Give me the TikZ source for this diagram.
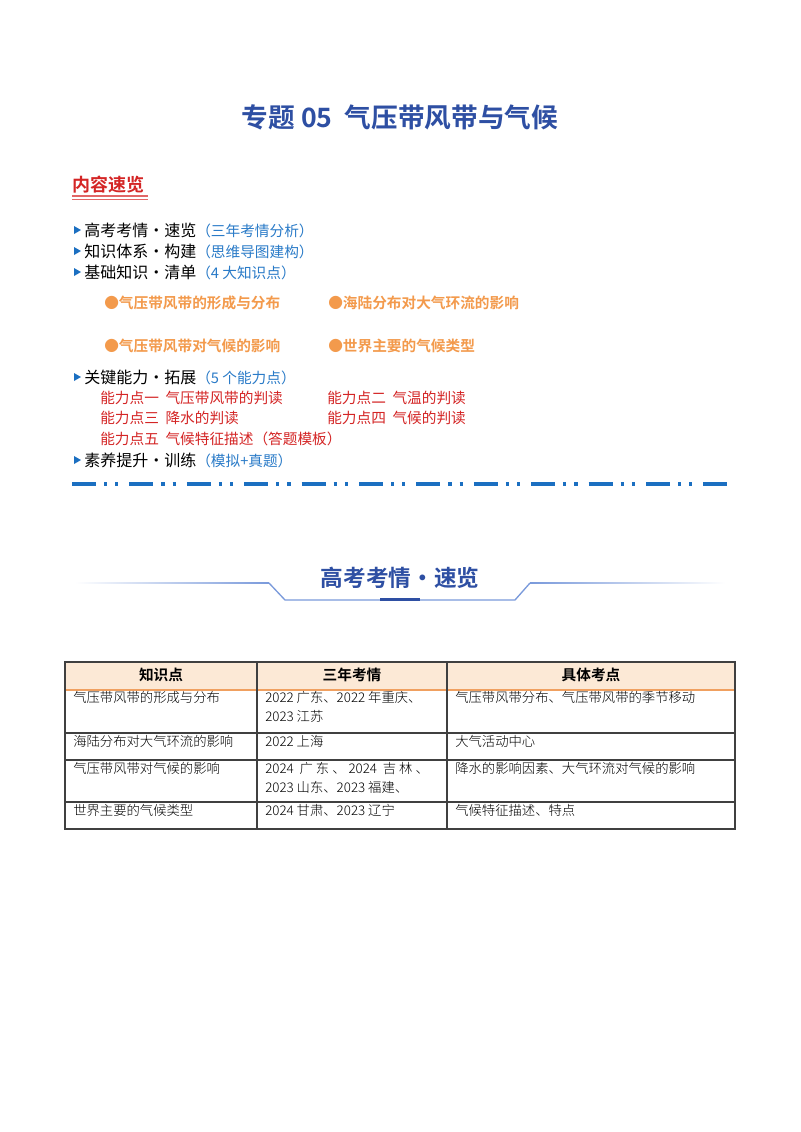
\documentclass[tikz,border=0pt]{standalone}
\usepackage{fontspec}
\setmainfont{Noto Sans CJK SC}
\newfontfamily\cjkb{Noto Sans CJK SC Bold}
\newfontfamily\cjkl{Noto Sans CJK SC Light}
\definecolor{titleblue}{HTML}{2E4FA3}
\definecolor{parblue}{HTML}{2A7BC8}
\definecolor{orng}{HTML}{F39A4C}
\definecolor{redtx}{HTML}{D42525}
\definecolor{dashblue}{HTML}{1B6FC1}
\definecolor{banline}{HTML}{7A9ADB}
\definecolor{hdrfill}{HTML}{FCE9D6}
\definecolor{hdrline}{HTML}{F0A060}
\begin{document}
\begin{tikzpicture}[x=0.75pt,y=-0.75pt,
  lst/.style={anchor=west,inner sep=0pt,font=\fontsize{12}{14}\selectfont},
  orn/.style={anchor=west,inner sep=0pt,text=orng,font=\cjkb\fontsize{11}{13}\selectfont},
  rd/.style={anchor=west,inner sep=0pt,text=redtx,font=\fontsize{11}{13}\selectfont},
  arr/.style={fill=dashblue,draw=none},
  cell/.style={anchor=north west,inner sep=0pt,align=left,font=\cjkl\fontsize{10}{14}\selectfont},
  hdr/.style={inner sep=0pt,font=\cjkb\fontsize{11}{13}\selectfont},
  grid/.style={draw=black!75,line width=0.8pt}]
\useasboundingbox[fill=white] (0,0) rectangle (800,1132);
% title
\node[text=titleblue,font=\cjkb\fontsize{20}{24}\selectfont] (title) at (400,117) {专题 05\ \ 气压带风带与气候};
% contents heading
\node[anchor=west,inner sep=0pt,text=redtx,font=\cjkb\fontsize{13.5}{16}\selectfont] (nr) at (72,185) {内容速览};
\draw[redtx!70,line width=0.8pt] (72,196) -- (148,196);
\draw[redtx!70,line width=0.6pt] (72,199) -- (148,199);
% list
\foreach \y/\a/\b [count=\i] in {230/高考考情·速览/（三年考情分析）,251/知识体系·构建/（思维导图建构）,272/基础知识·清单/（4 大知识点）,377/关键能力·拓展/（5 个能力点）,460/素养提升·训练/（模拟+真题）}{
  \fill[arr] (74,\y-4) -- (81,\y) -- (74,\y+4) -- cycle;
  \node[lst] (l\i) at (84,\y) {\a\textcolor{parblue}{\fontsize{11}{13}\selectfont\b}};
}
\node[orn] (o1) at (104,303) {●气压带风带的形成与分布};
\node[orn] (o2) at (328,303) {●海陆分布对大气环流的影响};
\node[orn] (o3) at (104,346) {●气压带风带对气候的影响};
\node[orn] (o4) at (328,346) {●世界主要的气候类型};
\node[rd] (r1) at (100,398) {能力点一\ \ 气压带风带的判读};
\node[rd] (r2) at (327,398) {能力点二\ \ 气温的判读};
\node[rd] (r3) at (100,418) {能力点三\ \ 降水的判读};
\node[rd] (r4) at (327,418) {能力点四\ \ 气候的判读};
\node[rd] (r5) at (100,439) {能力点五\ \ 气候特征描述（答题模板）};
\draw[dashblue,line width=2.4pt,dash pattern=on 18pt off 6pt on 2.4pt off 6pt on 2.4pt off 8.25pt] (72,484) -- (730,484);
% banner
\shade[left color=white,right color=banline] (75,582.6) rectangle (269,583.6);
\shade[left color=banline,right color=white] (530,582.6) rectangle (725,583.6);
\draw[banline,line width=1pt] (269,583) -- (285,600) -- (515,600) -- (530,583);
\fill[titleblue] (380,597.5) rectangle (420,601);
\node[text=titleblue,font=\cjkb\fontsize{17}{20}\selectfont] (bt) at (400,578) {高考考情·速览};
% table
\fill[hdrfill] (65,662) rectangle (735,690);
\draw[hdrline,line width=1.2pt] (65,690) -- (735,690);
\draw[grid] (65,662) rectangle (735,829);
\foreach \y in {733,760,802} \draw[grid] (65,\y) -- (735,\y);
\draw[grid] (257,662) -- (257,829);
\draw[grid] (447,662) -- (447,829);
\node[hdr] (h1) at (161,675) {知识点};
\node[hdr] (h2) at (352,675) {三年考情};
\node[hdr] (h3) at (591,675) {具体考点};
\node[cell] (a1) at (73,691) {气压带风带的形成与分布};
\node[cell] (b1) at (265,691) {2022 广东、2022 年重庆、\\2023 江苏};
\node[cell] (c1) at (455,691) {气压带风带分布、气压带风带的季节移动};
\node[cell] (a2) at (73,735) {海陆分布对大气环流的影响};
\node[cell] (b2) at (265,735) {2022 上海};
\node[cell] (c2) at (455,735) {大气活动中心};
\node[cell] (a3) at (73,762) {气压带风带对气候的影响};
\node[cell] (b3) at (265,762) {2024\ \ 广\ 东\ 、\ 2024\ \ 吉\ 林\ 、\\2023 山东、2023 福建、};
\node[cell] (c3) at (455,762) {降水的影响因素、大气环流对气候的影响};
\node[cell] (a4) at (73,804) {世界主要的气候类型};
\node[cell] (b4) at (265,804) {2024 甘肃、2023 辽宁};
\node[cell] (c4) at (455,804) {气候特征描述、特点};
\end{tikzpicture}
\end{document}
